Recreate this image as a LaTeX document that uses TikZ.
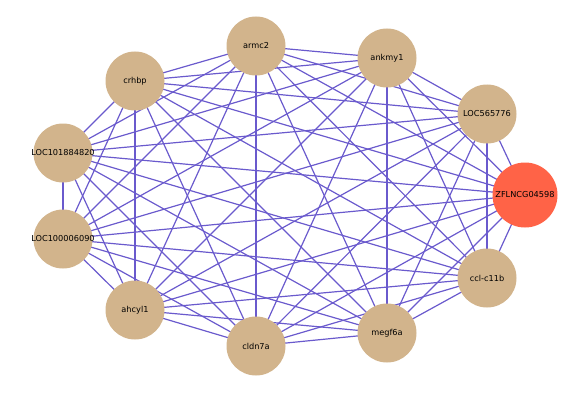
\documentclass[tikz,border=0pt]{standalone}
\usepackage{fontspec}
\setmainfont{DejaVu Sans}
\usetikzlibrary{backgrounds}
\definecolor{tanfill}{RGB}{210,180,140}
\definecolor{tomatofill}{RGB}{255,99,71}
\definecolor{edgeblue}{RGB}{106,90,205}

\begin{document}
\begin{tikzpicture}[x=1pt, y=-1pt, font=\fontsize{8.2}{9}\selectfont,
    gene/.style={circle, fill=tanfill, minimum size=59pt, inner sep=0pt},
    hub/.style={circle, fill=tomatofill, minimum size=65pt, inner sep=0pt},
    link/.style={edgeblue, line width=1.2pt}]
    \useasboundingbox (0,0) rectangle (588,393);

    \node[gene, label={center:armc2}] (armc) at (256,46) {};
    \node[gene, label={center:ankmy1}] (ankmy) at (387,58) {};
    \node[gene, label={center:LOC565776}] (loca) at (487,114) {};
    \node[hub, label={center:ZFLNCG04598}] (zfl) at (525,195) {};
    \node[gene, label={center:ccl-c11b}] (ccl) at (487,278) {};
    \node[gene, label={center:megf6a}] (megf) at (387,333) {};
    \node[gene, label={center:cldn7a}] (cldn) at (256,346) {};
    \node[gene, label={center:ahcyl1}] (ahcyl) at (135,310) {};
    \node[gene, label={center:LOC100006090}] (locb) at (63,239) {};
    \node[gene, label={center:LOC101884820}] (locc) at (63,153) {};
    \node[gene, label={center:crhbp}] (crhbp) at (135,81) {};

    % every pair is linked
    \begin{scope}[on background layer]
        \foreach \a [count=\i] in {armc,ankmy,loca,zfl,ccl,megf,cldn,ahcyl,locb,locc,crhbp}
            \foreach \b [count=\j] in {armc,ankmy,loca,zfl,ccl,megf,cldn,ahcyl,locb,locc,crhbp}
                {\ifnum\j>\i \draw[link] (\a.center) -- (\b.center); \fi}
    \end{scope}
\end{tikzpicture}
\end{document}
